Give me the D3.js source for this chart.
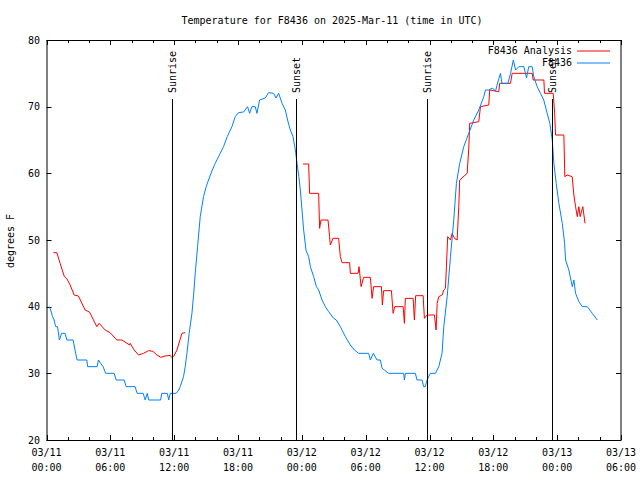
<!DOCTYPE html>
<html>
<head>
<meta charset="utf-8">
<script src="https://cdn.jsdelivr.net/npm/d3@7"></script>
<style>
  html, body { margin: 0; padding: 0; background: #fff; }
  svg { display: block; }
  text { font-family: "DejaVu Sans Mono", "Liberation Mono", monospace; font-size: 10px; fill: #000; }
</style>
</head>
<body>
<svg id="chart" width="640" height="480"></svg>
<script>
// ---- Data (hours since 2025-03-11 00:00 UTC, temperature in °F) ----
const titleText = "Temperature for F8436 on 2025-Mar-11 (time in UTC)";
const yLabel = "degrees F";
const seriesNames = ["F8436 Analysis", "F8436"];
const yTicks = [20, 30, 40, 50, 60, 70, 80];

const obsHours = [0.27,0.39,0.57,0.71,0.86,1.04,1.21,1.42,1.75,1.91,2.50,2.74,2.88,3.79,3.87,4.76,4.88,5.09,5.32,5.56,6.36,6.55,7.30,7.49,8.33,8.52,9.08,9.28,9.47,9.60,10.73,10.83,11.35,11.49,11.63,12.19,12.43,12.57,12.88,13.04,13.20,13.41,13.67,13.84,13.98,14.20,14.45,14.76,15.01,15.23,15.58,15.86,16.33,16.64,16.99,17.43,17.74,18.05,18.52,18.90,19.09,19.31,19.62,19.78,20.03,20.56,20.87,21.35,21.57,21.82,22.14,22.45,22.66,22.92,23.17,23.39,23.55,23.72,23.86,24.17,24.39,24.64,24.80,25.11,25.37,25.58,25.90,26.21,26.52,26.99,27.24,27.62,28.09,28.56,28.94,29.34,30.28,30.44,30.72,31.07,31.38,31.54,31.76,32.16,33.57,33.64,33.73,34.67,34.83,35.30,35.45,35.61,35.77,36.08,36.55,36.87,37.18,37.34,37.66,37.97,38.28,38.53,38.84,39.22,39.69,40.16,40.63,41.10,41.26,41.57,41.92,42.20,42.48,42.67,42.81,43.37,43.62,43.88,44.09,44.40,44.87,45.12,45.33,45.65,45.80,46.12,46.43,46.74,47.06,47.31,47.54,47.69,47.91,48.16,48.48,48.70,48.79,49.10,49.42,49.57,49.73,50.04,50.36,50.83,51.30,51.77];
const obsTemps = [40,39.5,38.5,38,37,37,35,36,36,35,35,33,32,32,31,31,32,31.5,31,30,30,29,29,28,28,27,27,26,27,26,26,27,27,26,27,27,27.5,28,29.5,31,33,36,39,42,45,49,53.5,56.5,58,59,60.5,61.5,63,64,65.5,67,68.5,69.1,69.2,70,69,70,70,69,71,71.3,72.1,72,71.3,72,70.5,69.5,68,66.5,65.5,63.5,61.5,59.5,57.5,51.5,48.5,47.5,46,44.5,43,42.5,41,40,39.25,38.25,38,37,35.5,34.25,33.5,33,33,32,33,32,32,30.75,30.5,30,30,29,30,30,29,29,28,28,29,30,30,31,33,37,41.5,47.5,53,58.5,61.5,64,66,68,69.5,71.5,72.5,72.5,72.8,72.3,74,75,73.5,73.5,75,77,75.5,76,76,74.3,76,76,74.5,73,72,71,69,67.5,65,61.5,58.5,55.5,52.5,49.5,47,45.5,43,44,42,40.75,40,40,39,38];

const anaHours = [0.65,0.97,1.28,1.68,1.91,2.22,2.60,3.00,3.63,4.04,4.73,4.95,5.51,5.98,6.61,7.08,7.49,7.80,7.86,8.24,8.65,9.12,9.59,10.00,10.38,10.75,11.16,11.63,11.79,11.94,12.26,12.73,13.04,
  18.5,
  24.11,24.64,24.73,25.58,25.67,25.80,26.46,26.61,26.68,26.93,27.46,27.62,27.78,28.49,28.56,29.29,29.38,29.57,29.81,30.44,30.60,30.75,31.48,31.57,31.69,32.42,32.58,32.73,33.52,33.64,33.73,34.46,34.58,34.70,35.40,35.52,35.77,36.46,36.62,36.72,36.87,37.19,37.34,37.50,37.59,37.71,37.97,38.13,38.37,38.60,38.75,38.84,39.54,39.69,39.78,40.63,40.79,41.57,41.66,42.51,42.60,43.61,43.77,45.65,45.75,46.75,46.81,47.63,47.76,47.85,48.63,48.72,48.94,49.41,49.57,49.73,49.89,50.04,50.16,50.41,50.62];
const anaTemps = [48.1,48.1,46.5,44.5,44.2,43.25,41.75,41.6,39.5,39.2,37,37.5,36.5,36.1,35,35,34.6,34.25,34.5,33.5,32.75,33,33.4,33.3,32.75,32.4,32.6,32.7,32.35,32.5,33.5,36,36.1,
  null,
  61.4,61.4,57,57,51.75,53,53,50.5,49.25,50.25,50.25,47.5,46.6,46.6,45,45,46,43,44.4,44.4,41.25,43,43,40.25,42.4,42.4,39,40,40,37.5,41.25,41.25,38,41.65,41.65,38.25,38.75,38.75,36.5,40.5,41.5,41.75,42.5,42.75,46,50.5,50,51,50.2,50,55,59,60,63.75,67.5,67.75,70,70.25,72.5,72.25,73.5,73.5,75,75,74,74,72,72,69,65.75,65.75,59.5,59.75,59.5,56.75,55,53.5,55,53.5,55,52.5];

const sunEvents = ["Sunrise", "Sunset", "Sunrise", "Sunset"];
const sunHours = [11.79, 23.45, 35.78, 47.54];

// ---- Layout ----
const svg = d3.select("#chart");
const L = 46.5, R = 621, T = 40, B = 440;
const t0 = Date.UTC(2025, 2, 11, 0, 0);
const toDate = h => new Date(t0 + h * 3600e3);

const x = d3.scaleUtc().domain([toDate(0), toDate(54)]).range([L, R]);
const y = d3.scaleLinear().domain([20, 80]).range([B, T]);

const redColor = "#ff0000", blueColor = "#0080ff";

// Title
svg.append("text").attr("x", 332).attr("y", 20).attr("dy", "0.35em")
  .attr("text-anchor", "middle").text(titleText);

// Y label
svg.append("text").attr("transform", "translate(10,241) rotate(-90)")
  .attr("dy", "0.35em").attr("text-anchor", "middle").text(yLabel);

// Ticks
const majorTicks = d3.utcHour.every(6).range(toDate(0), toDate(54.01));
const minorTicks = d3.utcHour.every(2).range(toDate(0), toDate(54.01))
  .filter(d => d.getUTCHours() % 6 !== 0);

const g = svg.append("g");
// minor x ticks (bottom & top)
g.selectAll(".mxb").data(minorTicks).enter().append("line")
  .attr("x1", d => Math.round(x(d)) + 0.5).attr("x2", d => Math.round(x(d)) + 0.5)
  .attr("y1", B).attr("y2", B - 3).attr("stroke", "#000");
g.selectAll(".mxt").data(minorTicks).enter().append("line")
  .attr("x1", d => Math.round(x(d)) + 0.5).attr("x2", d => Math.round(x(d)) + 0.5)
  .attr("y1", T).attr("y2", T + 3).attr("stroke", "#000");
// major x ticks
g.selectAll(".Mxb").data(majorTicks).enter().append("line")
  .attr("x1", d => Math.round(x(d)) + 0.5).attr("x2", d => Math.round(x(d)) + 0.5)
  .attr("y1", B).attr("y2", B - 5).attr("stroke", "#000");
g.selectAll(".Mxt").data(majorTicks).enter().append("line")
  .attr("x1", d => Math.round(x(d)) + 0.5).attr("x2", d => Math.round(x(d)) + 0.5)
  .attr("y1", T).attr("y2", T + 5).attr("stroke", "#000");
// x tick labels
const fmtDate = d3.utcFormat("%m/%d"), fmtTime = d3.utcFormat("%H:%M");
const xl = g.selectAll(".xl").data(majorTicks).enter().append("text")
  .attr("text-anchor", "middle");
xl.append("tspan").attr("x", d => x(d)).attr("y", 456).text(d => fmtDate(d));
xl.append("tspan").attr("x", d => x(d)).attr("y", 471).text(d => fmtTime(d));

// y ticks
g.selectAll(".yl").data(yTicks).enter().append("line")
  .attr("x1", L).attr("x2", L + 5)
  .attr("y1", d => Math.round(y(d)) + 0.5).attr("y2", d => Math.round(y(d)) + 0.5)
  .attr("stroke", "#000");
g.selectAll(".yr").data(yTicks).enter().append("line")
  .attr("x1", R).attr("x2", R - 5)
  .attr("y1", d => Math.round(y(d)) + 0.5).attr("y2", d => Math.round(y(d)) + 0.5)
  .attr("stroke", "#000");
g.selectAll(".ylab").data(yTicks).enter().append("text")
  .attr("x", 40).attr("y", d => y(d)).attr("dy", "0.35em")
  .attr("text-anchor", "end").text(d => d);

// Data lines
const obs = obsHours.map((h, i) => ({ d: toDate(h), v: obsTemps[i] }));
const ana = anaHours.map((h, i) => ({ d: toDate(h), v: anaTemps[i] }));
const line = d3.line().defined(p => p.v !== null).x(p => x(p.d)).y(p => y(p.v));

svg.append("path").datum(ana).attr("d", line)
  .attr("fill", "none").attr("stroke", redColor).attr("stroke-width", 1);
svg.append("path").datum(obs).attr("d", line)
  .attr("fill", "none").attr("stroke", blueColor).attr("stroke-width", 1);

// Sun lines
const sun = sunHours.map((h, i) => ({ d: toDate(h), name: sunEvents[i] }));
svg.selectAll(".sunl").data(sun).enter().append("line")
  .attr("x1", d => Math.round(x(d.d)) + 0.5).attr("x2", d => Math.round(x(d.d)) + 0.5)
  .attr("y1", 99).attr("y2", B).attr("stroke", "#000");
svg.selectAll(".sunt").data(sun).enter().append("text")
  .attr("transform", d => `translate(${Math.round(x(d.d)) + 0.5},93) rotate(-90)`)
  .attr("dy", "0.35em").attr("text-anchor", "start").text(d => d.name);

// Legend
const legY = [50.5, 62.5];
const legColors = [redColor, blueColor];
seriesNames.forEach((n, i) => {
  svg.append("text").attr("x", 572).attr("y", legY[i]).attr("dy", "0.35em")
    .attr("text-anchor", "end").text(n);
  svg.append("line").attr("x1", 577).attr("x2", 610)
    .attr("y1", legY[i] + 0.5).attr("y2", legY[i] + 0.5)
    .attr("stroke", legColors[i]);
});

// Frame
svg.append("rect").attr("x", L + 0.5).attr("y", T + 0.5)
  .attr("width", R - L - 0.5).attr("height", B - T)
  .attr("fill", "none").attr("stroke", "#000");
</script>
</body>
</html>
